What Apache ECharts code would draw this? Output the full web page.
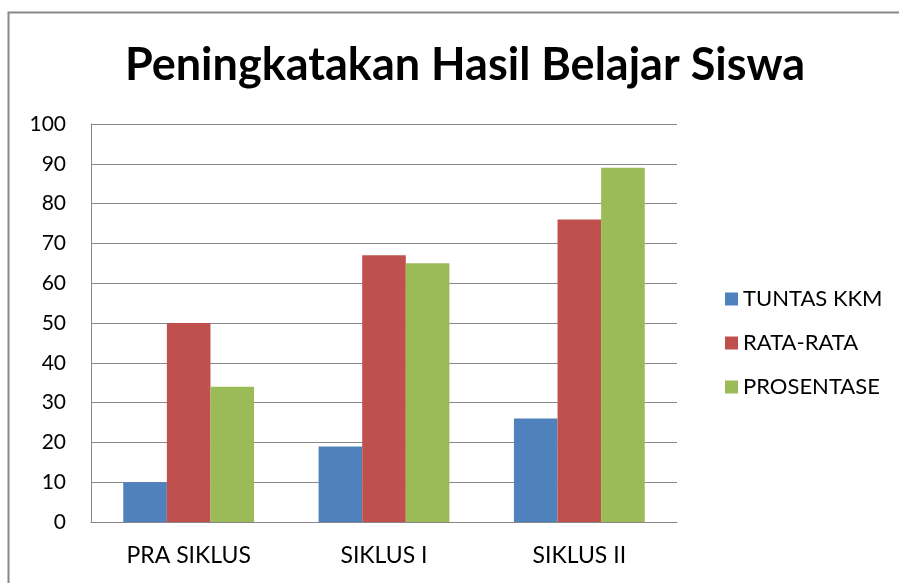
<!DOCTYPE html>
<html>
<head>
<meta charset="utf-8">
<script src="https://cdn.jsdelivr.net/npm/echarts@6/dist/echarts.min.js"></script>
<style>
  html, body { margin: 0; padding: 0; background: #fff; }
  #chart { width: 899px; height: 583px; }
</style>
</head>
<body>
<div id="chart"></div>
<script>
// data
const categories = ['PRA SIKLUS', 'SIKLUS I', 'SIKLUS II'];
const tuntasKkm = [10, 19, 26];
const rataRata = [50, 67, 76];
const prosentase = [34, 65, 89];
const seriesNames = ['TUNTAS KKM', 'RATA-RATA', 'PROSENTASE'];
const colors = ['#4f81bd', '#c0504d', '#9bbb59'];

const myChart = echarts.init(document.getElementById('chart'));
const font = 'Lato, "Open Sans", sans-serif';

const makeBar = (name, data, color) => ({
    name: name,
    type: 'bar',
    data: data,
    barWidth: 43.6,
    barGap: '0%',
    itemStyle: { color: color },
    animation: false
});

const option = {
    backgroundColor: '#ffffff',
    color: colors,
    title: {
        text: 'Peningkatakan Hasil Belajar Siswa',
        left: 460,
        textAlign: 'center',
        top: 38,
        textStyle: {
            fontFamily: font,
            fontSize: 45,
            fontWeight: 'bold',
            color: '#000000'
        }
    },
    legend: {
        orient: 'vertical',
        left: 720,
        top: 283,
        itemWidth: 13,
        itemHeight: 13,
        itemGap: 22,
        icon: 'rect',
        textStyle: { fontFamily: font, fontSize: 22, color: '#000000' },
        data: seriesNames
    },
    grid: { left: 91, right: 222, top: 124, bottom: 61 },
    xAxis: {
        type: 'category',
        data: categories,
        axisLine: { lineStyle: { color: '#888888', width: 1 } },
        axisTick: { show: false },
        axisLabel: {
            fontFamily: font,
            fontSize: 23,
            color: '#000000',
            margin: 22
        }
    },
    yAxis: {
        type: 'value',
        min: 0,
        max: 100,
        interval: 10,
        axisLine: { show: true, lineStyle: { color: '#888888', width: 1 } },
        axisTick: { show: false },
        splitLine: { lineStyle: { color: '#888888', width: 1 } },
        axisLabel: {
            fontFamily: font,
            fontSize: 21,
            color: '#000000',
            margin: 25
        }
    },
    graphic: [
        {
            type: 'polyline',
            shape: { points: [[8.5, 600], [8.5, 12.5], [910, 12.5]] },
            style: { stroke: '#888888', lineWidth: 2, fill: null },
            silent: true
        }
    ],
    series: [
        makeBar(seriesNames[0], tuntasKkm, colors[0]),
        makeBar(seriesNames[1], rataRata, colors[1]),
        makeBar(seriesNames[2], prosentase, colors[2])
    ]
};

myChart.setOption(option);
window.addEventListener('resize', myChart.resize);
</script>
</body>
</html>
